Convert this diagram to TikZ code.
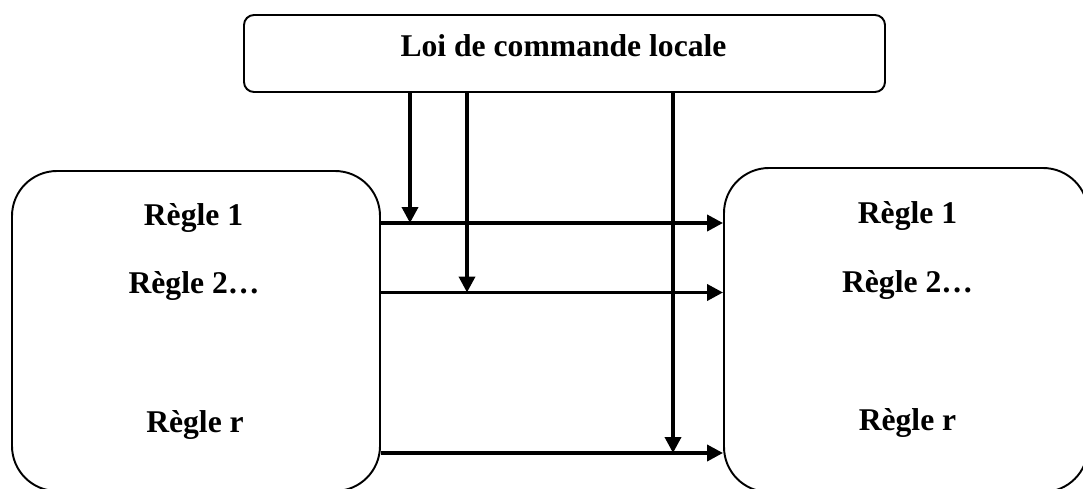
\documentclass[tikz,border=0pt]{standalone}
\usepackage{fontspec}
\setmainfont{Liberation Serif}
\usetikzlibrary{arrows.meta}

\begin{document}
\begin{tikzpicture}[
		box/.style={draw,line width=1.1pt,rounded corners=#1},
		rule/.style={font=\fontsize{18}{22}\selectfont\bfseries,anchor=base,inner sep=0pt},
		flow/.style={line width=2.1pt,-{Triangle[length=0.32cm,width=0.32cm]}}
	]
		\useasboundingbox (0,0) rectangle (21.66,-9.76);
		\node[box=0.2cm,minimum width=12.82cm,minimum height=1.54cm] (ctrl) at (11.29,-1.07) {};
		\node[rule] (ctrltxt) at (11.27,-1.14) {Loi de commande locale};
		\node[box=0.9cm,minimum width=7.36cm,minimum height=6.4cm] (src) at (3.92,-6.62) {};
		\node[box=0.9cm,minimum width=7.28cm,minimum height=6.48cm] (dst) at (18.12,-6.60) {};
		\node[rule] (srcA) at (3.87,-4.50) {Règle 1};
		\node[rule] (srcB) at (3.88,-5.86) {Règle 2…};
		\node[rule] (srcR) at (3.90,-8.64) {Règle r};
		\node[rule] (dstA) at (18.15,-4.46) {Règle 1};
		\node[rule] (dstB) at (18.15,-5.84) {Règle 2…};
		\node[rule] (dstR) at (18.15,-8.60) {Règle r};
		\coordinate (hitA) at (8.20,-4.46);
		\coordinate (hitB) at (9.34,-5.85);
		\coordinate (hitR) at (13.46,-9.06);
		\draw[flow] (src.east |- hitA) -- (dst.west |- hitA);
		\draw[flow] (src.east |- hitB) -- (dst.west |- hitB);
		\draw[flow] (src.east |- hitR) -- (dst.west |- hitR);
		\draw[flow] (ctrl.south -| hitA) -- (hitA);
		\draw[flow] (ctrl.south -| hitB) -- (hitB);
		\draw[flow] (ctrl.south -| hitR) -- (hitR);
\end{tikzpicture}
\end{document}
